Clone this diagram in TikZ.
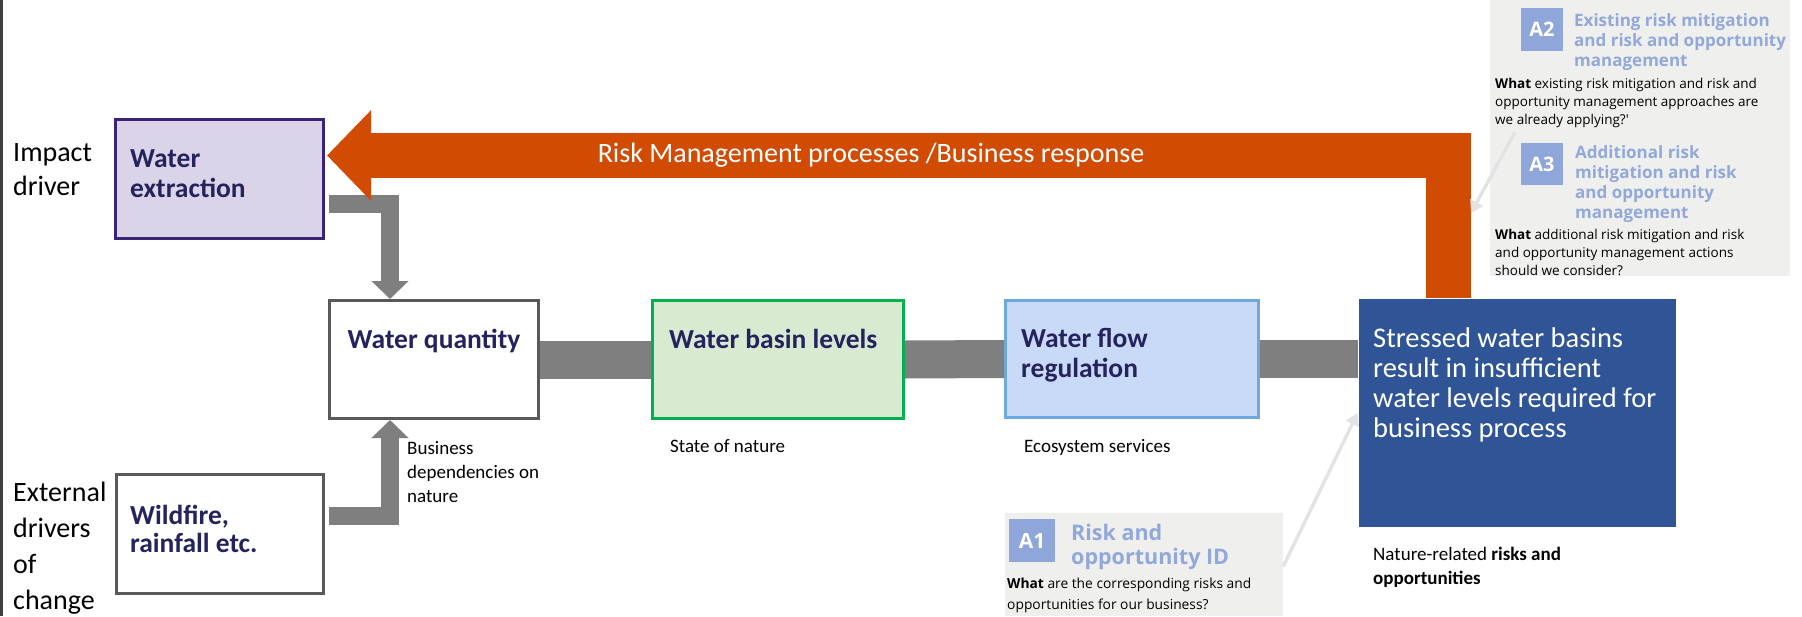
\documentclass[tikz,border=0pt]{standalone}
\usepackage{fontspec}
\setmainfont{Carlito}
\newfontfamily\panelfont{Open Sans}
\usetikzlibrary{arrows.meta, positioning, calc}

\definecolor{navytxt}{HTML}{25235E}
\definecolor{lilacfill}{HTML}{DBD4E9}
\definecolor{lilacline}{HTML}{3A2478}
\definecolor{boxgrey}{HTML}{595959}
\definecolor{basinfill}{HTML}{D9EAD3}
\definecolor{basinline}{HTML}{00B050}
\definecolor{flowfill}{HTML}{C9DAF8}
\definecolor{flowline}{HTML}{6FA8DC}
\definecolor{riskblue}{HTML}{2F5597}
\definecolor{bargrey}{HTML}{7F7F7F}
\definecolor{resporange}{HTML}{D24B03}
\definecolor{panelbg}{HTML}{EFEFED}
\definecolor{tagblue}{HTML}{8EA6DA}
\definecolor{tagtitlecol}{HTML}{91A8DB}
\definecolor{pointergrey}{HTML}{E3E3E3}
\definecolor{edgebar}{HTML}{404040}

\begin{document}
\begin{tikzpicture}[x=1pt, y=-1pt,
  every node/.style={inner sep=0pt},
  box/.style={line width=3pt, rectangle},
  title/.style={font=\fontsize{27.5}{30}\selectfont\bfseries, text=navytxt, align=left, anchor=north west},
  side/.style={font=\fontsize{28}{34}\selectfont, align=left, anchor=north west},
  caption/.style={font=\fontsize{19}{24}\selectfont, align=left, anchor=north west},
  greybar/.style={draw=bargrey, line width=38pt},
  elbow/.style={draw=bargrey, line width=18pt, -{Triangle[width=36pt,length=18pt]}},
  response/.style={draw=resporange, line width=45pt, -{Triangle[width=88pt,length=44pt]}},
  panel/.style={fill=panelbg, rectangle},
  tag/.style={fill=tagblue, text=white, font=\panelfont\bfseries\fontsize{20}{20}\selectfont},
  tagtitle/.style={font=\panelfont\bfseries\fontsize{17}{20}\selectfont, text=tagtitlecol, align=left, anchor=north west},
  tagbody/.style={font=\panelfont\fontsize{13.5}{18}\selectfont, align=left, anchor=north west},
  pointer/.style={draw=pointergrey, line width=3.5pt, -{Triangle[width=14pt,length=12pt]}}
]
\useasboundingbox (0,0) rectangle (1802,616);
% Left edge
\fill[edgebar] (0,0) rectangle (3,616);

% Driver labels
\node[side] (impact) at (13,143) {Impact\\driver};
\node[side, font=\fontsize{28}{36}\selectfont] (external) at (13,482) {External\\drivers\\of\\change};

% Boxes
\node[box, draw=lilacline, fill=lilacfill, minimum width=208pt, minimum height=119pt] (extract) at (219.5,179) {};
\node[box, draw=boxgrey, fill=white, minimum width=207pt, minimum height=119pt] (wildfire) at (220,534) {};
\node[box, draw=boxgrey, fill=white, minimum width=209pt, minimum height=118pt] (quantity) at (434,359.5) {};
\node[box, draw=basinline, fill=basinfill, minimum width=251pt, minimum height=118pt] (basin) at (778,359.5) {};
\node[box, draw=flowline, fill=flowfill, minimum width=253pt, minimum height=117pt] (flow) at (1132,359) {};
\node[box, fill=riskblue, minimum width=317pt, minimum height=228pt] (stress) at (1517.5,413) {};

% Box texts
\node[title] (extractlbl) at (130,149) {Water\\extraction};
\node[title, font=\fontsize{27.5}{27.5}\selectfont\bfseries] (wildfirelbl) at (130,505) {Wildfire,\\rainfall etc.};
\node[title, anchor=north] (quantitylbl) at (434,329) {Water quantity};
\node[title] (basinlbl) at (669,329) {Water basin levels};
\node[title] (flowlbl) at (1021,328) {Water flow\\regulation};
\node[title, font=\fontsize{28.5}{30}\selectfont, text=white] (stresslbl) at (1373,328)
  {Stressed water basins\\result in insufficient\\water levels required for\\business process};

% Flow bars
\draw[greybar] (quantity.east) -- (basin.west);
\draw[greybar] (basin.east) -- (flow.west);
\draw[greybar] (flow.east) -- (flow.east -| stress.west);
\draw[elbow] ([xshift=4pt, yshift=-25pt]extract.east) -| ([xshift=-44pt]quantity.north);
\draw[elbow] ([xshift=4pt, yshift=18pt]wildfire.east) -| ([xshift=-44pt]quantity.south);

% Business response
\draw[response] ([xshift=-69pt]stress.north) |- ([xshift=2pt, yshift=23.5pt]extract.east);
\node[font=\fontsize{28}{30}\selectfont, text=white] (resplbl) at (871,155.5) {Risk Management processes /Business response};

% Captions
\node[caption] (deplbl) at (407,441) {Business\\dependencies on\\nature};
\node[caption] (statelbl) at (670,439) {State of nature};
\node[caption] (ecolbl) at (1024,439) {Ecosystem services};
\node[caption] (risklbl) at (1373,547) {Nature-related \textbf{risks and}\\\textbf{opportunities}};

% Question panels
\node[panel, minimum width=300pt, minimum height=276pt] (upper) at (1640,138) {};
\node[tag, minimum width=42pt, minimum height=43pt] (atwo) at (1542,29.5) {A2};
\node[tagtitle] (atwott) at (1574,13) {Existing risk mitigation\\and risk and opportunity\\management};
\node[tagbody] (atwobd) at (1495,78) {\textbf{What} existing risk mitigation and risk and\\opportunity management approaches are\\we already applying?'};
\node[tag, minimum width=42pt, minimum height=42pt] (athree) at (1542,164) {A3};
\node[tagtitle] (athreett) at (1575,145) {Additional risk\\mitigation and risk\\and opportunity\\management};
\node[tagbody] (athreebd) at (1495,229) {\textbf{What} additional risk mitigation and risk\\and opportunity management actions\\should we consider?};

\node[panel, minimum width=278pt, minimum height=103pt] (lower) at (1144,564.5) {};
\node[tag, minimum width=46pt, minimum height=43pt, font=\panelfont\bfseries\fontsize{21}{21}\selectfont] (aone) at (1032,540.5) {A1};
\node[tagtitle, font=\panelfont\bfseries\fontsize{21.5}{24}\selectfont] (aonett) at (1071,524) {Risk and\\opportunity ID};
\node[tagbody, font=\panelfont\fontsize{13.8}{21}\selectfont] (aonebd) at (1007,578) {\textbf{What} are the corresponding risks and\\opportunities for our business?};

% Pointers
\coordinate (ptail) at (1515,132);
\coordinate (ptip) at (1471,213);
\draw[pointer] (ptail) -- (ptip);
\draw[pointer] ([yshift=-2pt]lower.east) -- (stress.west);
\end{tikzpicture}
\end{document}
